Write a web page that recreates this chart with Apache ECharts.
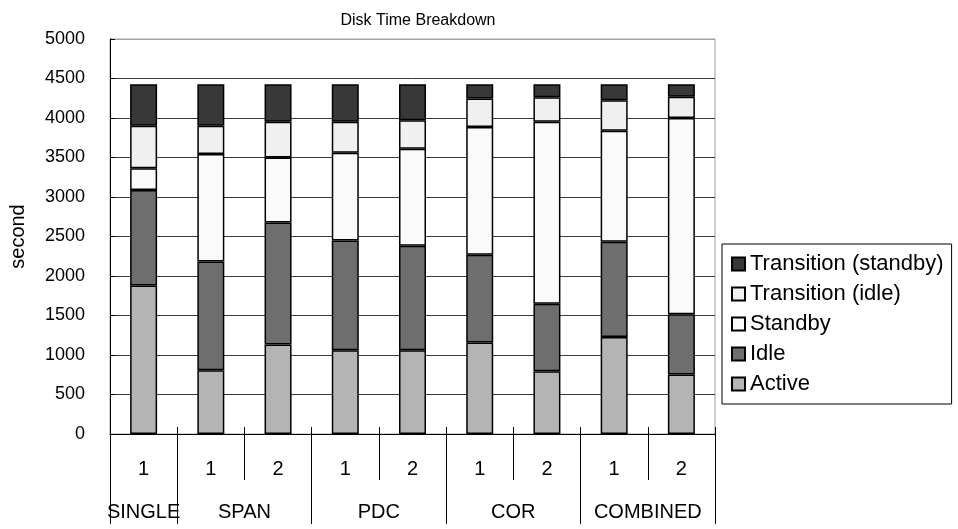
<!DOCTYPE html>
<html>
<head>
<meta charset="utf-8">
<script src="https://cdn.jsdelivr.net/npm/echarts@6/dist/echarts.min.js"></script>
<style>html,body{margin:0;padding:0;background:#fff}#c{width:958px;height:529px}</style>
</head>
<body>
<div id="c"></div>
<script>
const categories = ['1','1','2','1','2','1','2','1','2'];
const groups = ['SINGLE','SPAN','PDC','COR','COMBINED'];
const groupSizes = [1,2,2,2,2];
const active = [1880, 808, 1133, 1061, 1061, 1157, 795, 1229, 754];
const idle = [1210, 1376, 1544, 1388, 1321, 1111, 855, 1204, 761];
const standby = [273, 1360, 824, 1112, 1229, 1617, 2302, 1405, 2484];
const transIdle = [538, 357, 451, 391, 362, 362, 312, 388, 269];
const transStandby = [527, 527, 476, 476, 455, 181, 164, 202, 160];
const yTicks = [0,500,1000,1500,2000,2500,3000,3500,4000,4500,5000];

const FONT = 'Liberation Sans';
const chart = echarts.init(document.getElementById('c'));

// group boundaries and centers (in category units)
const bounds = [0]; const centers = [];
groupSizes.forEach(s => { const b = bounds[bounds.length-1]; centers.push(b + s/2); bounds.push(b + s); });

const seriesDefs = [
  ['Active', active, '#b4b4b4'],
  ['Idle', idle, '#6e6e6e'],
  ['Standby', standby, '#fafafa'],
  ['Transition (idle)', transIdle, '#f0f0f0'],
  ['Transition (standby)', transStandby, '#383838']
];

const splitColors = yTicks.map((v,i) => i === yTicks.length-1 ? '#a0a0a0' : '#3a3a3a');

chart.setOption({
  animation: false,
  backgroundColor: '#fff',
  title: { text: 'Disk Time Breakdown', left: 413, top: 8, textAlign: 'center',
    textStyle: { fontFamily: FONT, fontSize: 16, fontWeight: 'normal', color: '#000' } },
  grid: { left: 110, right: 243, top: 39, bottom: 95, show: true, borderColor: '#a0a0a0', borderWidth: 1 },
  legend: {
    orient: 'vertical', left: 722, top: 244,
    data: seriesDefs.map(d => d[0]).reverse(),
    itemWidth: 13, itemHeight: 13, itemGap: 8,
    padding: [9, 8, 9, 9],
    borderColor: '#000', borderWidth: 1, backgroundColor: '#fff',
    textStyle: { fontFamily: FONT, fontSize: 22, color: '#000', lineHeight: 22 },
    icon: 'rect'
  },
  xAxis: [
    { type: 'category', data: categories, position: 'bottom',
      axisLine: { lineStyle: { color: '#000', width: 1 } },
      axisTick: { show: true, alignWithLabel: false, length: 46, lineStyle: { color: '#000' } },
      axisLabel: { margin: 25, fontFamily: FONT, fontSize: 20, color: '#000' },
      splitLine: { show: false } },
    { type: 'value', min: 0, max: categories.length, position: 'bottom',
      axisLine: { show: false },
      axisTick: { show: true, customValues: bounds, length: 90, lineStyle: { color: '#000' } },
      axisLabel: { show: true, customValues: centers, margin: 68, fontFamily: FONT, fontSize: 20, color: '#000',
        formatter: v => { const i = centers.indexOf(v); return i >= 0 ? groups[i] : ''; } },
      splitLine: { show: false } },
    { type: 'category', data: categories, position: 'bottom',
      axisLine: { show: false },
      axisTick: { show: true, inside: true, alignWithLabel: false, length: 7, lineStyle: { color: '#000' } },
      axisLabel: { show: false }, splitLine: { show: false } }
  ],
  yAxis: {
    type: 'value', min: 0, max: 5000, interval: 500,
    name: 'second', nameLocation: 'middle', nameGap: 82, nameRotate: 90,
    nameTextStyle: { fontFamily: FONT, fontSize: 20, color: '#000' },
    axisLine: { show: true, lineStyle: { color: '#000' } },
    axisTick: { show: true, inside: true, length: 5, lineStyle: { color: '#000' } },
    axisLabel: { fontFamily: FONT, fontSize: 18, color: '#000', margin: 25, formatter: v => String(v) },
    splitLine: { show: true, lineStyle: { color: splitColors, width: 1 } }
  },
  series: seriesDefs.map(d => ({
    name: d[0], type: 'bar', stack: 'total', data: d[1], barWidth: 27, xAxisIndex: 0,
    itemStyle: { color: d[2], borderColor: '#000', borderWidth: 1.5 }
  }))
});
</script>
</body>
</html>
